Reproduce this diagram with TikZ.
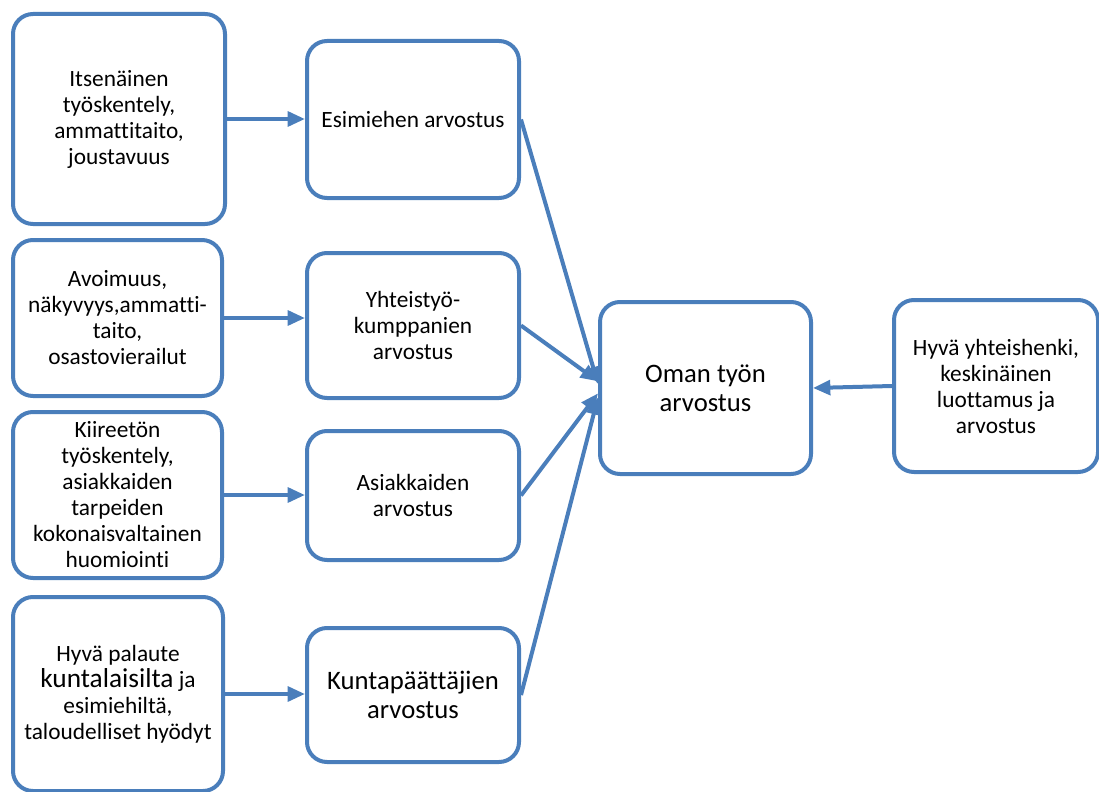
\documentclass[tikz,border=0pt]{standalone}
\usepackage{fontspec}
\setmainfont{Carlito}[Ligatures=NoCommon]
\usetikzlibrary{arrows.meta,positioning}
\definecolor{blueBox}{RGB}{74,126,187}
\tikzset{
  box/.style={draw=blueBox, line width=3pt, rounded corners=15pt, fill=white,
    align=center, inner sep=2pt, font=\fontsize{17.5}{19.5}\selectfont},
  bigbox/.style={box, font=\fontsize{20}{22}\selectfont},
  link/.style={draw=blueBox, line width=3pt, -{Triangle[length=13pt,width=11pt]}},
}
\begin{document}
\begin{tikzpicture}[x=0.75pt,y=-0.75pt]
\useasboundingbox (0,0) rectangle (1099,792);
			% vertices
			\node[box, minimum width=159pt, minimum height=157.5pt] (src1) at (119,119)
			  {Itsenäinen\\työskentely,\\ammattitaito,\\joustavuus};
			\node[box, minimum width=156.75pt, minimum height=117pt] (src2) at (117.5,318)
			  {Avoimuus,\\näkyvyys,ammatti-\\taito,\\osastovierailut};
			\node[box, minimum width=156.75pt, minimum height=124.5pt] (src3) at (117.5,495)
			  {Kiireetön\\työskentely,\\asiakkaiden\\tarpeiden\\kokonaisvaltainen\\huomiointi};
			\node[box, minimum width=157.5pt, minimum height=145.5pt] (src4) at (118,694)
			  {Hyvä palaute\\{\fontsize{20.5}{21}\selectfont kuntalaisilta} ja\\esimiehiltä,\\taloudelliset hyödyt};

			\node[box, minimum width=159pt, minimum height=117.75pt] (val1) at (413,119.5)
			  {Esimiehen arvostus};
			\node[box, minimum width=159pt, minimum height=108.75pt] (val2) at (413,325.5)
			  {Yhteistyö-\\kumppanien\\arvostus};
			\node[box, minimum width=159pt, minimum height=96.75pt] (val3) at (413,495.5)
			  {Asiakkaiden\\arvostus};
			\node[bigbox, minimum width=159pt, minimum height=100.5pt] (val4) at (413,695)
			  {Kuntapäättäjien\\arvostus};

			\node[bigbox, minimum width=158.25pt, minimum height=129pt] (own) at (705.5,388)
			  {Oman työn\\arvostus};
			\node[box, minimum width=153pt, minimum height=129pt] (spirit) at (996,386)
			  {Hyvä yhteishenki,\\keskinäinen\\luottamus ja\\arvostus};

			% edges
			\draw[link] (src1.east) -- (src1.east -| val1.west);
			\draw[link] (src2.east) -- (src2.east -| val2.west);
			\draw[link] (src3.east) -- (src3.east -| val3.west);
			\draw[link] (src4.east) -- (src4.east -| val4.west);

			\draw[link] (val1.east) -- ([yshift=3pt]own.west);
			\draw[link] (val2.east) -- ([yshift=5pt]own.west);
			\draw[link] (val3.east) -- ([yshift=-4pt]own.west);
			\draw[link] (val4.east) -- ([yshift=-7pt]own.west);
			\draw[link] (spirit.west) -- (own.east);
\end{tikzpicture}
\end{document}
